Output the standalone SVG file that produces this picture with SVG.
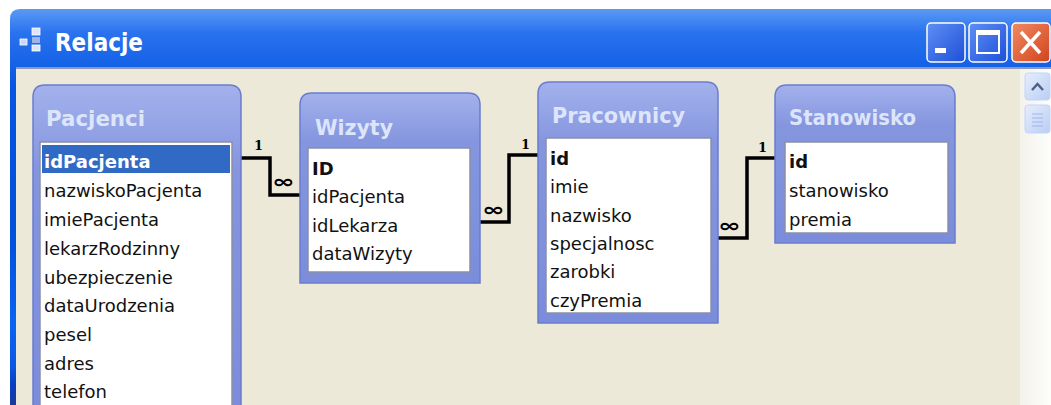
<svg xmlns="http://www.w3.org/2000/svg" width="1051" height="405" viewBox="0 0 1051 405">
<defs>
<linearGradient id="tb" x1="0" y1="0" x2="0" y2="1">
<stop offset="0" stop-color="#5a9af5"/>
<stop offset="0.06" stop-color="#2a72ee"/>
<stop offset="0.2" stop-color="#0656e2"/>
<stop offset="0.55" stop-color="#0050da"/>
<stop offset="0.8" stop-color="#0a63f2"/>
<stop offset="0.9" stop-color="#0a58e4"/>
<stop offset="0.95" stop-color="#0a3fc0"/>
<stop offset="1" stop-color="#1a3a9e"/>
</linearGradient>
<linearGradient id="frame" x1="0" y1="0" x2="0" y2="1">
<stop offset="0" stop-color="#a3b1ec"/>
<stop offset="0.25" stop-color="#8596df"/>
<stop offset="1" stop-color="#7b8cdb"/>
</linearGradient>
<linearGradient id="btn" x1="0" y1="0" x2="1" y2="1">
<stop offset="0" stop-color="#5f8ff5"/>
<stop offset="1" stop-color="#1d4fd8"/>
</linearGradient>
<linearGradient id="cls" x1="0" y1="0" x2="1" y2="1">
<stop offset="0" stop-color="#f08a64"/>
<stop offset="1" stop-color="#d2441c"/>
</linearGradient>
<linearGradient id="sb" x1="0" y1="0" x2="1" y2="0">
<stop offset="0" stop-color="#f3f2ec"/>
<stop offset="1" stop-color="#fdfdfb"/>
</linearGradient>
<linearGradient id="sbb" x1="0" y1="0" x2="1" y2="1">
<stop offset="0" stop-color="#e6eefc"/>
<stop offset="1" stop-color="#b9cdf4"/>
</linearGradient>
</defs>
<style>
.tbl{fill:url(#frame);stroke:#6a7cd0;stroke-width:1.5}
.lst{fill:#ffffff;stroke:#8a8fa6;stroke-width:1.5}
.ttl{font-family:"DejaVu Sans",sans-serif;font-weight:bold;font-size:21px;fill:#dde5fb}
.row{font-family:"DejaVu Sans",sans-serif;font-size:18px;fill:#111111}
.key{font-weight:bold}
.lnk{fill:none;stroke:#000000;stroke-width:3.5;stroke-linejoin:miter}
.one{font-family:"DejaVu Serif",serif;font-weight:bold;font-size:13px;fill:#000000}
.inf{font-family:"DejaVu Sans",sans-serif;font-weight:bold;font-size:26px;fill:#000000}
</style>
<rect x="0" y="0" width="1051" height="405" fill="#ffffff"/>
<g id="window">
<path d="M10 405 V19 Q10 9 20 9 H1051 V405 Z" fill="url(#tb)"/>
<rect x="16" y="67" width="1035" height="338" fill="#ece9d8"/>
<rect x="16" y="67" width="1035" height="2" fill="#8a99b8"/>
<rect x="1020" y="69" width="31" height="336" fill="url(#sb)"/>
<rect x="1025" y="73" width="25" height="27" rx="3" fill="url(#sbb)" stroke="#c3d3fd"/>
<path d="M1032 90 L1037.5 84 L1043 90" fill="none" stroke="#4d6185" stroke-width="2.5"/>
<rect x="1025" y="105" width="25" height="28" rx="3" fill="url(#sbb)" stroke="#c3d3fd"/>
<path d="M1032 114 H1043 M1032 118 H1043 M1032 122 H1043 M1032 126 H1043" stroke="#9fb5e8" stroke-width="1"/>
<g id="icon">
<rect x="20" y="39" width="7" height="6" fill="#c9d8f8" stroke="#ffffff" stroke-width="0.8"/>
<rect x="32" y="28" width="8" height="7" fill="#dbe5fa" stroke="#ffffff" stroke-width="0.8"/>
<rect x="32" y="37" width="8" height="6" fill="#9fb4e6"/>
<rect x="32" y="45" width="8" height="6" fill="#dbe5fa" stroke="#ffffff" stroke-width="0.8"/>
</g>
<text x="55" y="51" font-family="DejaVu Sans, sans-serif" font-weight="bold" font-size="24" fill="#ffffff" textLength="88" lengthAdjust="spacingAndGlyphs">Relacje</text>
<g id="btn-min">
<rect x="927" y="23" width="38" height="39" rx="4" fill="url(#btn)" stroke="#ffffff" stroke-width="1.5"/>
<rect x="935" y="48" width="11" height="5" fill="#ffffff"/>
</g>
<g id="btn-max">
<rect x="969" y="23" width="38" height="39" rx="4" fill="url(#btn)" stroke="#ffffff" stroke-width="1.5"/>
<rect x="977" y="31" width="22" height="22" fill="none" stroke="#ffffff" stroke-width="2"/>
<rect x="977" y="31" width="22" height="4" fill="#ffffff"/>
</g>
<g id="btn-close">
<rect x="1012" y="23" width="38" height="39" rx="4" fill="url(#cls)" stroke="#ffffff" stroke-width="1.5"/>
<path d="M1021 32 L1040 53 M1040 32 L1021 53" stroke="#ffffff" stroke-width="3.5"/>
</g>
</g>
<g id="connectors">
<path class="lnk" d="M241 158 H270 V195 H300"/>
<path class="lnk" d="M480 222 H509 V155 H538"/>
<path class="lnk" d="M718 238 H747 V158 H775"/>
<text class="one" x="254" y="150">1</text>
<text class="inf" transform="translate(272 188) scale(1.05 0.7)">∞</text>
<text class="one" x="521" y="149">1</text>
<text class="inf" transform="translate(482 216) scale(1.05 0.7)">∞</text>
<text class="one" x="758" y="152">1</text>
<text class="inf" transform="translate(718 232) scale(1.05 0.7)">∞</text>
</g>
<g id="pacjenci">
<path class="tbl" d="M33 415 V97 Q33 85 45 85 H229 Q241 85 241 97 V415 Z"/>
<text class="ttl" x="46" y="126" textLength="99" lengthAdjust="spacingAndGlyphs">Pacjenci</text>
<rect class="lst" x="40" y="142" width="192" height="270"/>
<rect x="42" y="145" width="188" height="28" fill="#316ac5"/>
<text class="row key" x="44" y="168" style="fill:#ffffff">idPacjenta</text>
<text class="row" x="44" y="197">nazwiskoPacjenta</text>
<text class="row" x="44" y="226">imiePacjenta</text>
<text class="row" x="44" y="255">lekarzRodzinny</text>
<text class="row" x="44" y="284">ubezpieczenie</text>
<text class="row" x="44" y="312">dataUrodzenia</text>
<text class="row" x="44" y="341">pesel</text>
<text class="row" x="44" y="370">adres</text>
<text class="row" x="44" y="398">telefon</text>
</g>
<g id="wizyty">
<path class="tbl" d="M300 283 V105 Q300 93 312 93 H468 Q480 93 480 105 V283 Z"/>
<text class="ttl" x="315" y="135" textLength="78" lengthAdjust="spacingAndGlyphs">Wizyty</text>
<rect class="lst" x="308" y="148" width="162" height="124"/>
<text class="row key" x="312" y="175">ID</text>
<text class="row" x="312" y="203">idPacjenta</text>
<text class="row" x="312" y="232">idLekarza</text>
<text class="row" x="312" y="260">dataWizyty</text>
</g>
<g id="pracownicy">
<path class="tbl" d="M538 323 V94 Q538 82 550 82 H706 Q718 82 718 94 V323 Z"/>
<text class="ttl" x="552" y="123" textLength="133" lengthAdjust="spacingAndGlyphs">Pracownicy</text>
<rect class="lst" x="546" y="138" width="165" height="175"/>
<text class="row key" x="550" y="165">id</text>
<text class="row" x="550" y="193">imie</text>
<text class="row" x="550" y="222">nazwisko</text>
<text class="row" x="550" y="250">specjalnosc</text>
<text class="row" x="550" y="278">zarobki</text>
<text class="row" x="550" y="307">czyPremia</text>
</g>
<g id="stanowisko">
<path class="tbl" d="M775 243 V97 Q775 85 787 85 H943 Q955 85 955 97 V243 Z"/>
<text class="ttl" x="789" y="125" textLength="127" lengthAdjust="spacingAndGlyphs">Stanowisko</text>
<rect class="lst" x="785" y="142" width="163" height="91"/>
<text class="row key" x="789" y="168">id</text>
<text class="row" x="789" y="197">stanowisko</text>
<text class="row" x="789" y="226">premia</text>
</g>
</svg>
